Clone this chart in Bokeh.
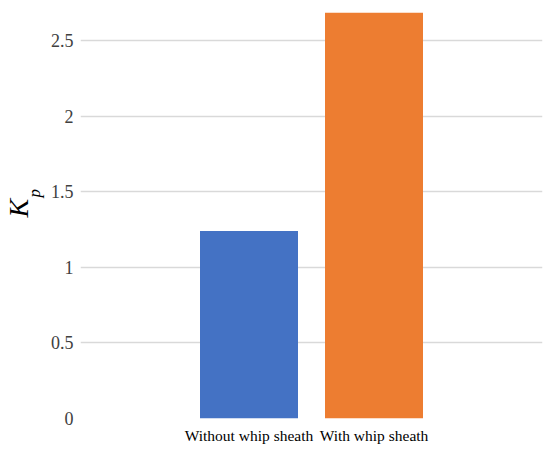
from bokeh.plotting import figure
from bokeh.models import Range1d, FactorRange, FixedTicker, Title
from bokeh.embed import file_html
from bokeh.resources import INLINE

categories = ["Without whip sheath", "With whip sheath"]
kp_values = [1.24, 2.685]
bar_colors = ["#4472C4", "#ED7D31"]
y_ticks = [0, 0.5, 1, 1.5, 2, 2.5]
y_tick_labels = ["0", "0.5", "1", "1.5", "2", "2.5"]

p = figure(
    width=550, height=455,
    x_range=FactorRange(*categories, range_padding=0.848),
    y_range=Range1d(0, 2.7),
    output_backend="svg", toolbar_location=None,
    min_border_left=80, min_border_right=8, min_border_top=10, min_border_bottom=37,
)
p.outline_line_color = None
p.background_fill_color = "white"
p.border_fill_color = "white"

p.vbar(x=categories, top=kp_values, width=0.784, color=bar_colors, line_color=None)

p.xgrid.grid_line_color = None
p.ygrid.grid_line_color = "#d9d9d9"
p.ygrid.grid_line_width = 1.5
p.yaxis.ticker = FixedTicker(ticks=y_ticks)
p.yaxis.major_label_overrides = {t: s for t, s in zip(y_ticks, y_tick_labels)}

for ax in (p.xaxis[0], p.yaxis[0]):
    ax.axis_line_color = None
    ax.major_tick_line_color = None
    ax.minor_tick_line_color = None
    ax.major_tick_out = 0
    ax.major_tick_in = 0

p.yaxis.major_label_text_font = "Liberation Serif"
p.yaxis.major_label_text_font_size = "18px"
p.yaxis.major_label_text_color = "#404040"
p.yaxis.major_label_standoff = 7

p.xaxis.major_label_text_font = "Liberation Serif"
p.xaxis.major_label_text_font_size = "15.5px"
p.xaxis.major_label_text_color = "#000000"
p.xaxis.major_label_standoff = 8

sub_title = Title(text="p", align="left", offset=221, standoff=4, vertical_align="top",
                  text_font="Liberation Serif", text_font_style="italic",
                  text_font_size="17px", text_color="#000000")
main_title = Title(text="K", align="left", offset=201, standoff=-25, vertical_align="middle",
                   text_font="Liberation Serif", text_font_style="italic",
                   text_font_size="28px", text_color="#000000")
p.add_layout(sub_title, "left")
p.add_layout(main_title, "left")

open("out.html", "w").write(file_html(p, INLINE))
